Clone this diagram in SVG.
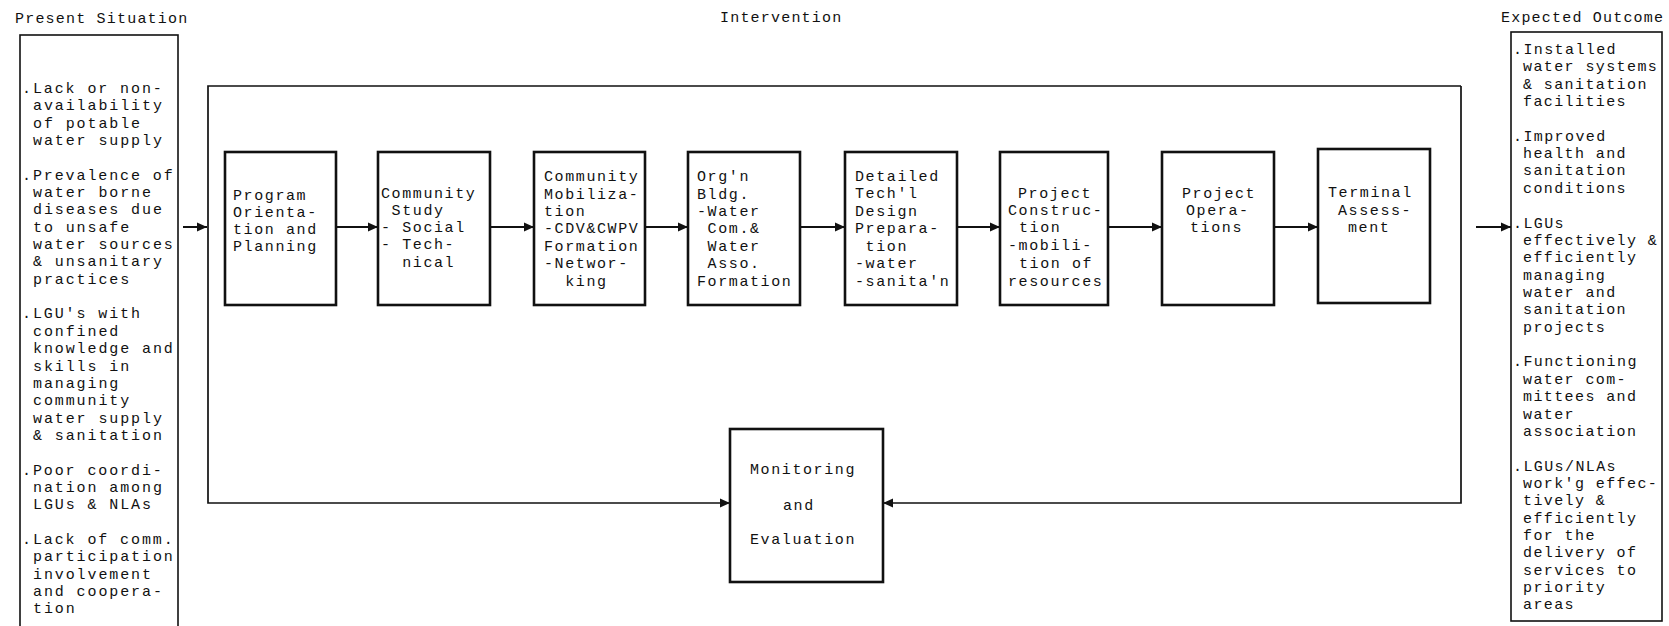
<svg xmlns="http://www.w3.org/2000/svg" width="1669" height="626" viewBox="0 0 1669 626">
<style>
text{font-family:"Liberation Mono","DejaVu Sans Mono",monospace;font-size:15px;letter-spacing:1.6px;fill:#111;white-space:pre}
.lc text{letter-spacing:1.9px}
.rc text{letter-spacing:1.4px}
#headings text{letter-spacing:1.2px}
.col{fill:none;stroke:#111;stroke-width:1.6}
.box{fill:#fff;stroke:#111;stroke-width:2.6}
.con{fill:none;stroke:#111;stroke-width:2}
.frame{fill:none;stroke:#111;stroke-width:1.7}
</style>
<defs>
<marker id="ah" viewBox="0 0 10 10" refX="10" refY="5" markerWidth="10" markerHeight="10" markerUnits="userSpaceOnUse" orient="auto">
<path d="M0,0.5 L10,5 L0,9.5 Z" fill="#111"/>
</marker>
</defs>
<rect width="1669" height="626" fill="#fff"/>

<g id="headings">
<text x="15" y="23">Present Situation</text>
<text x="720" y="22">Intervention</text>
<text x="1501" y="22">Expected Outcome</text>
</g>

<g id="present-situation" class="lc">
<rect class="col" x="20" y="35" width="158" height="600"/>
<text x="22" y="93">.Lack or non-</text>
<text x="33" y="110">availability</text>
<text x="33" y="128">of potable</text>
<text x="33" y="145">water supply</text>
<text x="22" y="180">.Prevalence of</text>
<text x="33" y="197">water borne</text>
<text x="33" y="214">diseases due</text>
<text x="33" y="232">to unsafe</text>
<text x="33" y="249">water sources</text>
<text x="33" y="266">&amp; unsanitary</text>
<text x="33" y="284">practices</text>
<text x="22" y="318">.LGU's with</text>
<text x="33" y="336">confined</text>
<text x="33" y="353">knowledge and</text>
<text x="33" y="371">skills in</text>
<text x="33" y="388">managing</text>
<text x="33" y="405">community</text>
<text x="33" y="423">water supply</text>
<text x="33" y="440">&amp; sanitation</text>
<text x="22" y="475">.Poor coordi-</text>
<text x="33" y="492">nation among</text>
<text x="33" y="509">LGUs &amp; NLAs</text>
<text x="22" y="544">.Lack of comm.</text>
<text x="33" y="561">participation</text>
<text x="33" y="579">involvement</text>
<text x="33" y="596">and coopera-</text>
<text x="33" y="613">tion</text>
</g>

<g id="expected-outcome" class="rc">
<rect class="col" x="1511" y="32" width="151" height="589"/>
<text x="1513" y="54">.Installed</text>
<text x="1523" y="71">water systems</text>
<text x="1523" y="89">&amp; sanitation</text>
<text x="1523" y="106">facilities</text>
<text x="1513" y="141">.Improved</text>
<text x="1523" y="158">health and</text>
<text x="1523" y="175">sanitation</text>
<text x="1523" y="193">conditions</text>
<text x="1513" y="228">.LGUs</text>
<text x="1523" y="245">effectively &amp;</text>
<text x="1523" y="262">efficiently</text>
<text x="1523" y="280">managing</text>
<text x="1523" y="297">water and</text>
<text x="1523" y="314">sanitation</text>
<text x="1523" y="332">projects</text>
<text x="1513" y="366">.Functioning</text>
<text x="1523" y="384">water com-</text>
<text x="1523" y="401">mittees and</text>
<text x="1523" y="419">water</text>
<text x="1523" y="436">association</text>
<text x="1513" y="471">.LGUs/NLAs</text>
<text x="1523" y="488">work'g effec-</text>
<text x="1523" y="505">tively &amp;</text>
<text x="1523" y="523">efficiently</text>
<text x="1523" y="540">for the</text>
<text x="1523" y="557">delivery of</text>
<text x="1523" y="575">services to</text>
<text x="1523" y="592">priority</text>
<text x="1523" y="609">areas</text>
</g>

<g id="connectors">
<path class="frame" d="M1461,86 H208 V503 H730" marker-end="url(#ah)"/>
<path class="frame" d="M1461,86 V503 H883" marker-end="url(#ah)"/>
<path class="con" d="M183,227 H207" marker-end="url(#ah)"/>
<path class="con" d="M336,227 H378" marker-end="url(#ah)"/>
<path class="con" d="M490,227 H534" marker-end="url(#ah)"/>
<path class="con" d="M645,227 H688" marker-end="url(#ah)"/>
<path class="con" d="M800,227 H845" marker-end="url(#ah)"/>
<path class="con" d="M957,227 H1000" marker-end="url(#ah)"/>
<path class="con" d="M1108,227 H1162" marker-end="url(#ah)"/>
<path class="con" d="M1274,227 H1318" marker-end="url(#ah)"/>
<path class="con" d="M1476,227 H1511" marker-end="url(#ah)"/>
</g>

<g id="program-orientation">
<rect class="box" x="225" y="152" width="111" height="153"/>
<text x="233" y="200">Program</text>
<text x="233" y="217">Orienta-</text>
<text x="233" y="234">tion and</text>
<text x="233" y="251">Planning</text>
</g>

<g id="community-study">
<rect class="box" x="378" y="152" width="112" height="153"/>
<text x="381" y="198">Community</text>
<text x="381" y="215"> Study</text>
<text x="381" y="232">- Social</text>
<text x="381" y="249">- Tech-</text>
<text x="381" y="267">  nical</text>
</g>

<g id="community-mobilization">
<rect class="box" x="534" y="152" width="111" height="153"/>
<text x="544" y="181">Community</text>
<text x="544" y="199">Mobiliza-</text>
<text x="544" y="216">tion</text>
<text x="544" y="233">-CDV&amp;CWPV</text>
<text x="544" y="251">Formation</text>
<text x="544" y="268">-Networ-</text>
<text x="544" y="286">  king</text>
</g>

<g id="orgn-bldg">
<rect class="box" x="688" y="152" width="112" height="153"/>
<text x="697" y="181">Org'n</text>
<text x="697" y="199">Bldg.</text>
<text x="697" y="216">-Water</text>
<text x="697" y="233"> Com.&amp;</text>
<text x="697" y="251"> Water</text>
<text x="697" y="268"> Asso.</text>
<text x="697" y="286">Formation</text>
</g>

<g id="detailed-design">
<rect class="box" x="845" y="152" width="112" height="153"/>
<text x="855" y="181">Detailed</text>
<text x="855" y="198">Tech'l</text>
<text x="855" y="216">Design</text>
<text x="855" y="233">Prepara-</text>
<text x="855" y="251"> tion</text>
<text x="855" y="268">-water</text>
<text x="855" y="286">-sanita'n</text>
</g>

<g id="project-construction">
<rect class="box" x="1000" y="152" width="108" height="153"/>
<text x="1018" y="198">Project</text>
<text x="1008" y="215">Construc-</text>
<text x="1019" y="232">tion</text>
<text x="1008" y="250">-mobili-</text>
<text x="1019" y="268">tion of</text>
<text x="1008" y="286">resources</text>
</g>

<g id="project-operations">
<rect class="box" x="1162" y="152" width="112" height="153"/>
<text x="1182" y="198">Project</text>
<text x="1186" y="215">Opera-</text>
<text x="1190" y="232">tions</text>
</g>

<g id="terminal-assessment">
<rect class="box" x="1318" y="149" width="112" height="154"/>
<text x="1328" y="197">Terminal</text>
<text x="1338" y="215">Assess-</text>
<text x="1348" y="232">ment</text>
</g>

<g id="monitoring-evaluation">
<rect class="box" x="730" y="429" width="153" height="153"/>
<text x="750" y="474">Monitoring</text>
<text x="783" y="510">and</text>
<text x="750" y="544">Evaluation</text>
</g>
</svg>
